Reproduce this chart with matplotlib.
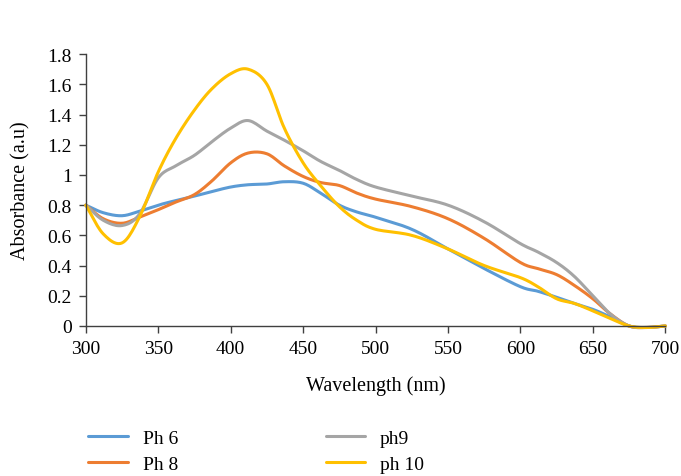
import numpy as np
import matplotlib
matplotlib.use("Agg")
import matplotlib.pyplot as plt

plt.rcParams['font.family'] = ['Liberation Serif', 'DejaVu Serif']

# wavelength grid (nm)
wl = [300, 312, 325, 337, 350, 362, 375, 387, 400, 412, 425, 437, 450, 462,
      475, 487, 500, 525, 550, 575, 600, 612, 625, 637, 650, 662, 675, 687, 700]

ph6 = [0.80, 0.75, 0.73, 0.76, 0.80, 0.83, 0.86, 0.89, 0.92, 0.935, 0.94, 0.955,
       0.945, 0.88, 0.80, 0.755, 0.72, 0.64, 0.51, 0.38, 0.26, 0.23, 0.19, 0.15,
       0.11, 0.06, 0.0, -0.01, 0.0]
ph8 = [0.80, 0.71, 0.68, 0.72, 0.77, 0.82, 0.87, 0.96, 1.08, 1.145, 1.14, 1.06,
       0.99, 0.95, 0.93, 0.88, 0.84, 0.79, 0.71, 0.58, 0.42, 0.38, 0.34, 0.27,
       0.18, 0.08, 0.0, -0.01, 0.0]
ph9 = [0.80, 0.70, 0.665, 0.74, 0.98, 1.06, 1.13, 1.22, 1.31, 1.36, 1.29, 1.23,
       1.16, 1.09, 1.03, 0.97, 0.92, 0.86, 0.80, 0.69, 0.545, 0.49, 0.42, 0.33,
       0.20, 0.08, 0.0, -0.01, 0.0]
ph10 = [0.80, 0.61, 0.55, 0.72, 1.02, 1.24, 1.43, 1.57, 1.67, 1.70, 1.60, 1.31,
        1.08, 0.93, 0.79, 0.70, 0.64, 0.60, 0.51, 0.40, 0.32, 0.26, 0.18, 0.15,
        0.10, 0.05, 0.0, -0.01, 0.0]

labels = ['Ph 6', 'Ph 8', 'ph9', 'ph 10']
colors = ['#5B9BD5', '#ED7D31', '#A5A5A5', '#FFC000']


def smooth(x, y, n=12):
    # Catmull-Rom drawing through the points, like Excel's smoothed line
    x = np.asarray(x, float)
    y = np.asarray(y, float)
    px = np.concatenate([[2 * x[0] - x[1]], x, [2 * x[-1] - x[-2]]])
    py = np.concatenate([[2 * y[0] - y[1]], y, [2 * y[-1] - y[-2]]])
    t = np.linspace(0, 1, n, endpoint=False)
    xs, ys = [], []
    for i in range(1, len(px) - 2):
        for p, out in ((px, xs), (py, ys)):
            p0, p1, p2, p3 = p[i - 1], p[i], p[i + 1], p[i + 2]
            out.extend(0.5 * (2 * p1 + (-p0 + p2) * t
                              + (2 * p0 - 5 * p1 + 4 * p2 - p3) * t ** 2
                              + (-p0 + 3 * p1 - 3 * p2 + p3) * t ** 3))
    xs.append(x[-1])
    ys.append(y[-1])
    return xs, ys


fig = plt.figure(figsize=(6.81, 4.77), dpi=100)
ax = fig.add_axes([0.126, 0.3145, 0.851, 0.570])

lines = []
for y, lab, c in zip([ph6, ph8, ph9, ph10], labels, colors):
    sx, sy = smooth(wl, y)
    ln, = ax.plot(sx, sy, color=c, lw=2.2, label=lab, clip_on=False,
                  solid_joinstyle='round', solid_capstyle='round')
    lines.append(ln)

ax.set_xlim(300, 700)
ax.set_ylim(0, 1.8)
ax.set_xticks(np.arange(300, 701, 50))
ax.set_yticks(np.arange(0, 1.81, 0.2))
ax.set_yticklabels(['0', '0.2', '0.4', '0.6', '0.8', '1', '1.2', '1.4', '1.6', '1.8'])

for s in ['top', 'right']:
    ax.spines[s].set_visible(False)
for s in ['left', 'bottom']:
    ax.spines[s].set_color('#404040')
    ax.spines[s].set_linewidth(1.0)
ax.tick_params(axis='both', direction='out', length=5, width=1.0,
               color='#404040', labelsize=14, pad=5)

ax.set_xlabel('Wavelength (nm)', fontsize=14.5, labelpad=13)
ax.set_ylabel('Absorbance (a.u)', fontsize=14.5, labelpad=12)

# legend in two columns below the plot
fig.legend(lines, labels,
           loc='upper left', bbox_to_anchor=(0.118, 0.115), ncol=2,
           frameon=False, fontsize=14, handlelength=2.05, handletextpad=0.75,
           columnspacing=7.6, labelspacing=0.45, borderaxespad=0)

fig.savefig('out.png', dpi=100)
